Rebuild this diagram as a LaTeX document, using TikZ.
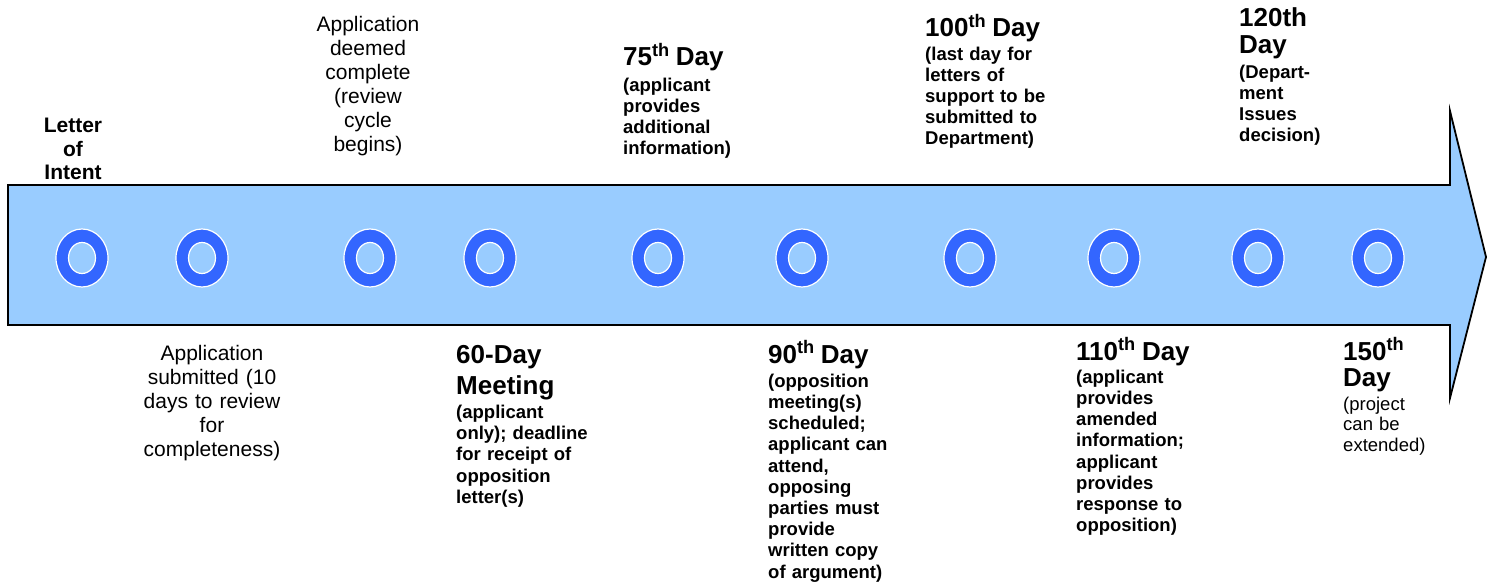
\documentclass[tikz,border=0pt]{standalone}
\usepackage{fontspec}
\setmainfont{Liberation Sans}
\usetikzlibrary{shapes.geometric}
\definecolor{shaftblue}{HTML}{99CCFF}
\definecolor{ringblue}{HTML}{3366FF}
\newcommand\hdf{\fontsize{26}{31}\selectfont\bfseries}
\newcommand\ordth{\textsuperscript{th}}
\begin{document}
\begin{tikzpicture}[x=1pt,y=-1pt,
  ring/.style={ellipse,draw=white,line width=1.2pt,fill=ringblue,minimum width=52pt,minimum height=58pt,inner sep=0pt},
  hole/.style={ellipse,draw=white,line width=1.2pt,fill=shaftblue,minimum width=27pt,minimum height=31pt,inner sep=0pt},
  reglab/.style={inner sep=0pt,text width=200pt,align=center,font=\fontsize{21}{24}\selectfont},
  boldc/.style={inner sep=0pt,text width=200pt,align=center,font=\fontsize{21}{23.5}\selectfont\bfseries},
  daylab/.style={inner sep=0pt,text width=200pt,align=left,anchor=base west,font=\fontsize{18.5}{21.2}\selectfont\bfseries},
  daylabr/.style={inner sep=0pt,text width=200pt,align=left,anchor=base west,font=\fontsize{18.5}{20.5}\selectfont}
]
\useasboundingbox (0,0) rectangle (1488,585);
% timeline arrow
\draw[fill=shaftblue,line width=1.8pt,line join=miter]
  (8,185) -- (1450,185) -- (1450,111) -- (1486,257) -- (1450,398) -- (1450,325) -- (8,325) -- cycle;
% milestones
\foreach \x/\n in {82/1,202/2,370/3,490/4,658/5,802/6,970/7,1114/8,1258/9,1378/10}{
  \node[ring] (m\n) at (\x,258) {};
  \node[hole] (h\n) at (m\n.center) {};
}
% labels above
\node[boldc,anchor=base] (loi) at (73,133) {Letter\\of\\Intent};
\node[reglab,anchor=base] (deemed) at (368,32) {Application\\deemed\\complete\\(review\\cycle\\begins)};
\node[daylab] (d75) at (623,66) {{\hdf 75\ordth\ Day}\\[4pt](applicant\\provides\\additional\\information)};
\node[daylab] (d100) at (925,37) {{\hdf 100\ordth\ Day}\\[2pt](last day for\\letters of\\support to be\\submitted to\\Department)};
\node[daylab] (d120) at (1239,27) {{\hdf 120th}\\[5pt]{\hdf Day}\\[4pt](Depart-\\ment\\Issues\\decision)};
% labels below
\node[reglab,anchor=base] (sub) at (212,360) {Application\\submitted (10\\days to review\\for\\completeness)};
\node[daylab] (d60) at (456,363) {{\hdf 60-Day}\\[6pt]{\hdf Meeting}\\[3pt](applicant\\only); deadline\\for receipt of\\opposition\\letter(s)};
\node[daylab] (d90) at (768,363) {{\hdf 90\ordth\ Day}\\[3pt](opposition\\meeting(s)\\scheduled;\\applicant can\\attend,\\opposing\\parties must\\provide\\written copy\\of argument)};
\node[daylab] (d110) at (1076,360) {{\hdf 110\ordth\ Day}\\[2pt](applicant\\provides\\amended\\information;\\applicant\\provides\\response to\\opposition)};
\node[daylabr] (d150) at (1343,360) {{\hdf 150\ordth}\\[6pt]{\hdf Day}\\[3pt](project\\can be\\extended)};
\end{tikzpicture}
\end{document}
